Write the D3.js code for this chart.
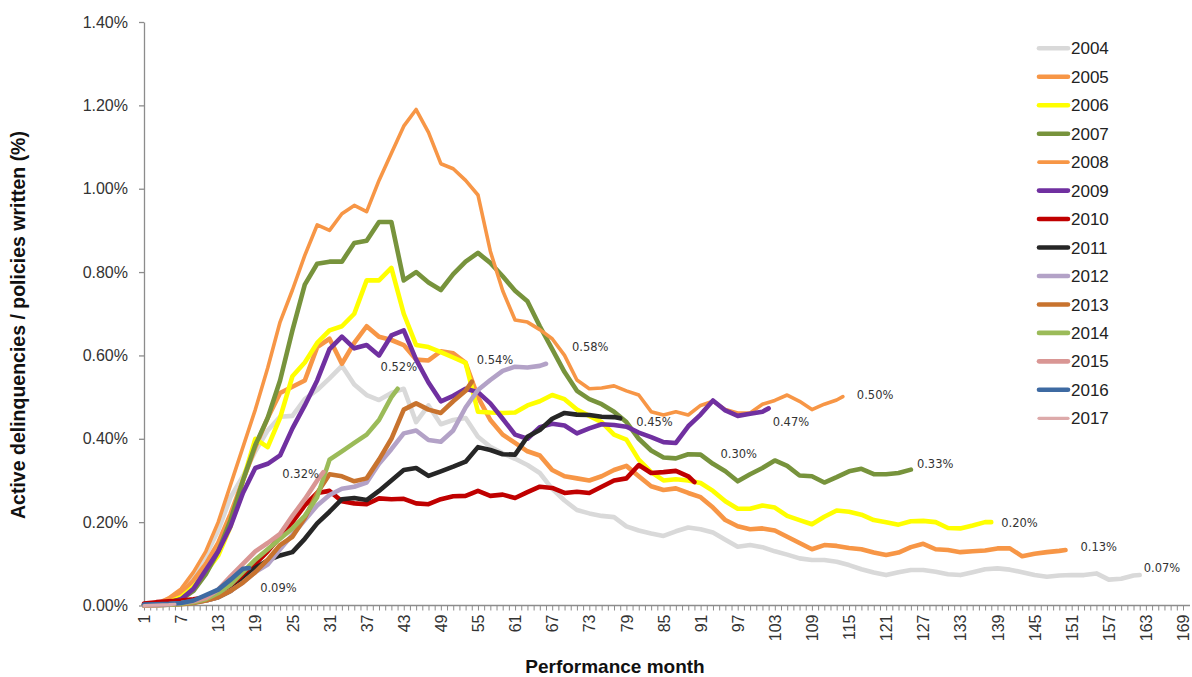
<!DOCTYPE html>
<html>
<head>
<meta charset="utf-8">
<script src="https://cdn.jsdelivr.net/npm/d3@7/dist/d3.min.js"></script>
<style>
  html, body { margin: 0; padding: 0; background: #fff; }
  svg { display: block; font-family: "Liberation Sans", Arial, sans-serif; }
</style>
</head>
<body>
<svg id="chart" width="1192" height="677"></svg>
<script>
// ---------------- DATA ----------------
const years = ["2004","2005","2006","2007","2008","2009","2010","2011","2012","2013","2014","2015","2016","2017"];
// last performance month of each cohort
const lastMonths = [162, 150, 138, 125, 114, 102, 90, 78, 66, 54, 42, 30, 18, 6];
// values (%) read at months 1,3,5,... and finally at the last month
const v2004 = [0.003,0.006,0.015,0.035,0.075,0.12,0.18,0.26,0.31,0.37,
  0.42,0.453,0.455,0.495,0.517,0.545,0.575,0.53,0.505,0.493,
  0.51,0.52,0.44,0.48,0.435,0.445,0.45,0.405,0.381,0.365,
  0.352,0.337,0.318,0.28,0.252,0.229,0.221,0.215,0.212,0.19,
  0.18,0.173,0.167,0.178,0.187,0.183,0.175,0.158,0.141,0.145,
  0.14,0.13,0.122,0.113,0.109,0.109,0.105,0.097,0.087,0.079,
  0.073,0.08,0.085,0.085,0.081,0.075,0.073,0.08,0.087,0.089,
  0.086,0.08,0.073,0.069,0.072,0.073,0.073,0.077,0.062,0.064,
  0.072,0.073];
const v2005 = [0.002,0.005,0.012,0.03,0.06,0.1,0.15,0.22,0.3,0.38,
  0.45,0.51,0.525,0.54,0.62,0.64,0.58,0.63,0.67,0.645,
  0.637,0.625,0.59,0.588,0.61,0.605,0.582,0.5,0.445,0.41,
  0.39,0.37,0.36,0.325,0.31,0.305,0.3,0.31,0.325,0.335,
  0.31,0.286,0.277,0.281,0.27,0.26,0.235,0.205,0.19,0.183,
  0.185,0.18,0.165,0.15,0.135,0.145,0.143,0.138,0.135,0.127,
  0.121,0.127,0.14,0.148,0.135,0.133,0.128,0.13,0.132,0.137,
  0.137,0.118,0.124,0.128,0.131,0.133];
const v2006 = [0.001,0.003,0.008,0.02,0.045,0.08,0.12,0.19,0.3,0.4,
  0.38,0.45,0.55,0.583,0.63,0.66,0.67,0.7,0.78,0.78,
  0.81,0.7,0.625,0.62,0.608,0.595,0.582,0.465,0.463,0.462,
  0.463,0.48,0.49,0.505,0.495,0.47,0.455,0.44,0.41,0.398,
  0.35,0.32,0.3,0.303,0.3,0.294,0.275,0.25,0.232,0.232,
  0.24,0.235,0.215,0.205,0.195,0.213,0.228,0.225,0.218,0.205,
  0.2,0.194,0.202,0.203,0.2,0.186,0.185,0.192,0.2,0.2];
const v2007 = [0.001,0.003,0.007,0.015,0.035,0.075,0.13,0.205,0.3,0.385,
  0.45,0.54,0.66,0.77,0.82,0.825,0.825,0.87,0.875,0.92,
  0.92,0.78,0.8,0.775,0.757,0.795,0.825,0.846,0.822,0.79,
  0.755,0.73,0.67,0.615,0.56,0.515,0.495,0.483,0.465,0.44,
  0.4,0.372,0.355,0.353,0.363,0.362,0.34,0.322,0.298,0.315,
  0.33,0.348,0.335,0.312,0.31,0.295,0.308,0.322,0.328,0.315,
  0.315,0.318,0.326];
const v2008 = [0.002,0.004,0.018,0.04,0.08,0.13,0.2,0.29,0.38,0.47,
  0.57,0.68,0.757,0.84,0.913,0.9,0.94,0.96,0.945,1.02,
  1.085,1.15,1.19,1.135,1.06,1.048,1.02,0.985,0.85,0.755,
  0.685,0.68,0.662,0.64,0.6,0.541,0.52,0.522,0.527,0.515,
  0.505,0.465,0.457,0.465,0.457,0.48,0.49,0.47,0.462,0.462,
  0.483,0.492,0.505,0.49,0.47,0.483,0.493,0.501];
const v2009 = [0.002,0.003,0.006,0.015,0.04,0.085,0.13,0.19,0.27,0.33,
  0.34,0.36,0.425,0.48,0.54,0.615,0.645,0.617,0.625,0.6,
  0.648,0.66,0.59,0.535,0.49,0.503,0.52,0.512,0.485,0.448,
  0.41,0.4,0.428,0.436,0.432,0.413,0.425,0.435,0.433,0.429,
  0.415,0.404,0.392,0.39,0.43,0.458,0.492,0.468,0.455,0.46,
  0.465,0.473];
const v2010 = [0.005,0.008,0.01,0.012,0.015,0.02,0.03,0.045,0.07,0.1,
  0.13,0.165,0.2,0.24,0.27,0.275,0.25,0.245,0.243,0.257,
  0.255,0.256,0.245,0.243,0.255,0.262,0.263,0.275,0.263,0.266,
  0.258,0.272,0.285,0.282,0.27,0.273,0.27,0.285,0.3,0.305,
  0.337,0.318,0.32,0.323,0.31,0.296];
const v2011 = [0.001,0.002,0.003,0.005,0.008,0.012,0.02,0.035,0.06,0.09,
  0.108,0.12,0.128,0.16,0.197,0.225,0.255,0.258,0.253,0.275,
  0.3,0.325,0.33,0.311,0.322,0.333,0.345,0.38,0.373,0.363,
  0.362,0.405,0.421,0.448,0.462,0.458,0.457,0.453,0.452,0.449];
const v2012 = [0,0.001,0.002,0.004,0.007,0.012,0.02,0.035,0.055,0.08,
  0.098,0.135,0.17,0.205,0.24,0.265,0.28,0.285,0.295,0.34,
  0.375,0.413,0.42,0.397,0.393,0.42,0.475,0.517,0.541,0.563,
  0.573,0.571,0.575,0.58];
const v2013 = [0,0.001,0.002,0.003,0.006,0.012,0.02,0.035,0.055,0.08,
  0.11,0.145,0.165,0.21,0.27,0.315,0.31,0.298,0.305,0.35,
  0.4,0.47,0.485,0.47,0.462,0.49,0.515,0.537];
const v2014 = [0,0.001,0.002,0.004,0.008,0.015,0.03,0.05,0.08,0.11,
  0.135,0.16,0.185,0.215,0.26,0.35,0.37,0.39,0.41,0.445,
  0.5,0.52];
const v2015 = [0,0.001,0.003,0.006,0.01,0.018,0.038,0.07,0.1,0.13,
  0.15,0.172,0.215,0.255,0.3,0.32];
const v2016 = [0.002,0.003,0.004,0.006,0.012,0.025,0.038,0.062,0.088,0.09];
const v2017 = [0,0.001,0.002,0.003];
const seriesValues = [v2004,v2005,v2006,v2007,v2008,v2009,v2010,v2011,v2012,v2013,v2014,v2015,v2016,v2017];
const endLabels = ["0.07%","0.13%","0.20%","0.33%","0.50%","0.47%","0.30%","0.45%","0.58%","0.54%","0.52%","0.32%","0.09%",null];
const yTicks = [0,0.2,0.4,0.6,0.8,1.0,1.2,1.4];
const xTickLabels = d3.range(1, 170, 6);

// ---------------- STYLE ----------------
const colors = ["#D9D9D9","#F79646","#FFFF00","#77933C","#F79646","#7030A0","#C00000","#262626","#B3A2C7","#C8732E","#9BBB59","#D99694","#3E6AA2","#DDAAAA"];
const widths = [4.6,4.6,4.6,4.6,3.6,4.6,4.6,4.6,4.6,4.6,4.6,4.6,4.6,3.2];
// label offsets from series end point (px)
const labelOffsets = [[4,-7],[15,-3],[10,1],[6,-6],[14,-2],[4,14],[26,-28],[16,4],[26,-17],[5,-22],[-17,-22],[-41,2],[11,20],[0,0]];

const svg = d3.select("#chart");
const x = d3.scaleLinear().domain([1, 169]).range([144, 1183]);
const y = d3.scaleLinear().domain([0, 1.4]).range([605.5, 22]);

// axes
const yAxis = d3.axisLeft(y).tickValues(yTicks).tickSize(5).tickSizeOuter(0).tickPadding(11)
  .tickFormat(d => d.toFixed(2) + "%");
const gy = svg.append("g").attr("transform", "translate(144,0)").call(yAxis);
gy.select(".domain").attr("stroke", "#8C8C8C").attr("stroke-width", 1.3);
gy.selectAll(".tick line").attr("stroke", "#8C8C8C").attr("stroke-width", 1.3);
gy.selectAll(".tick text").attr("fill", "#333").style("font-size", "16px")
  .style("font-family", "'Liberation Sans', Arial, sans-serif");

const xAxis = d3.axisBottom(x).tickValues(d3.range(1, 170)).tickSize(5).tickSizeOuter(0)
  .tickFormat(d => xTickLabels.includes(d) ? String(d) : "");
const gx = svg.append("g").attr("transform", "translate(0,605.5)").call(xAxis);
gx.select(".domain").attr("stroke", "#8C8C8C").attr("stroke-width", 1.3)
  .attr("d", `M${x.range()[0]},0H${x.range()[1] + 7}`);
gx.selectAll(".tick line").attr("stroke", "#8C8C8C").attr("stroke-width", 1);
gx.selectAll(".tick text")
  .attr("transform", "rotate(-90)")
  .attr("x", -9).attr("y", 0).attr("dy", "0.35em")
  .style("text-anchor", "end")
  .attr("fill", "#333").style("font-size", "16px")
  .style("font-family", "'Liberation Sans', Arial, sans-serif");

// lines
const line = d3.line().x(d => x(d[0])).y(d => y(d[1]));
seriesValues.forEach((vals, i) => {
  const n = vals.length;
  const pts = vals.map((v, k) => [k < n - 1 ? 1 + 2 * k : lastMonths[i], v]);
  svg.append("path").datum(pts)
    .attr("d", line)
    .attr("fill", "none")
    .attr("stroke", colors[i])
    .attr("stroke-width", widths[i])
    .attr("stroke-linejoin", "round")
    .attr("stroke-linecap", "round");
});

// end labels
seriesValues.forEach((vals, i) => {
  if (!endLabels[i]) return;
  const v = vals[vals.length - 1];
  svg.append("text")
    .attr("x", x(lastMonths[i]) + labelOffsets[i][0])
    .attr("y", y(v) + labelOffsets[i][1])
    .attr("dy", "0.35em")
    .attr("fill", "#333")
    .style("font-family", "'DejaVu Sans', Verdana, sans-serif")
    .style("font-size", "11.5px")
    .text(endLabels[i]);
});

// legend
const lg = svg.append("g");
years.forEach((yr, i) => {
  const yy = 48.3 + i * 28.46;
  lg.append("line").attr("x1", 1039).attr("x2", 1068).attr("y1", yy).attr("y2", yy)
    .attr("stroke", colors[i]).attr("stroke-width", widths[i]).attr("stroke-linecap", "round");
  lg.append("text").attr("x", 1071).attr("y", yy).attr("dy", "0.36em")
    .attr("fill", "#222").style("font-size", "17px").text(yr);
});

// titles
svg.append("text").attr("x", 615).attr("y", 673).attr("text-anchor", "middle")
  .style("font-size", "19px").style("font-weight", "bold").attr("fill", "#111")
  .text("Performance month");
svg.append("text").attr("transform", "translate(25,325) rotate(-90)").attr("text-anchor", "middle")
  .style("font-size", "19.5px").style("font-weight", "bold").attr("fill", "#111")
  .text("Active delinquencies / policies written (%)");
</script>
</body>
</html>
